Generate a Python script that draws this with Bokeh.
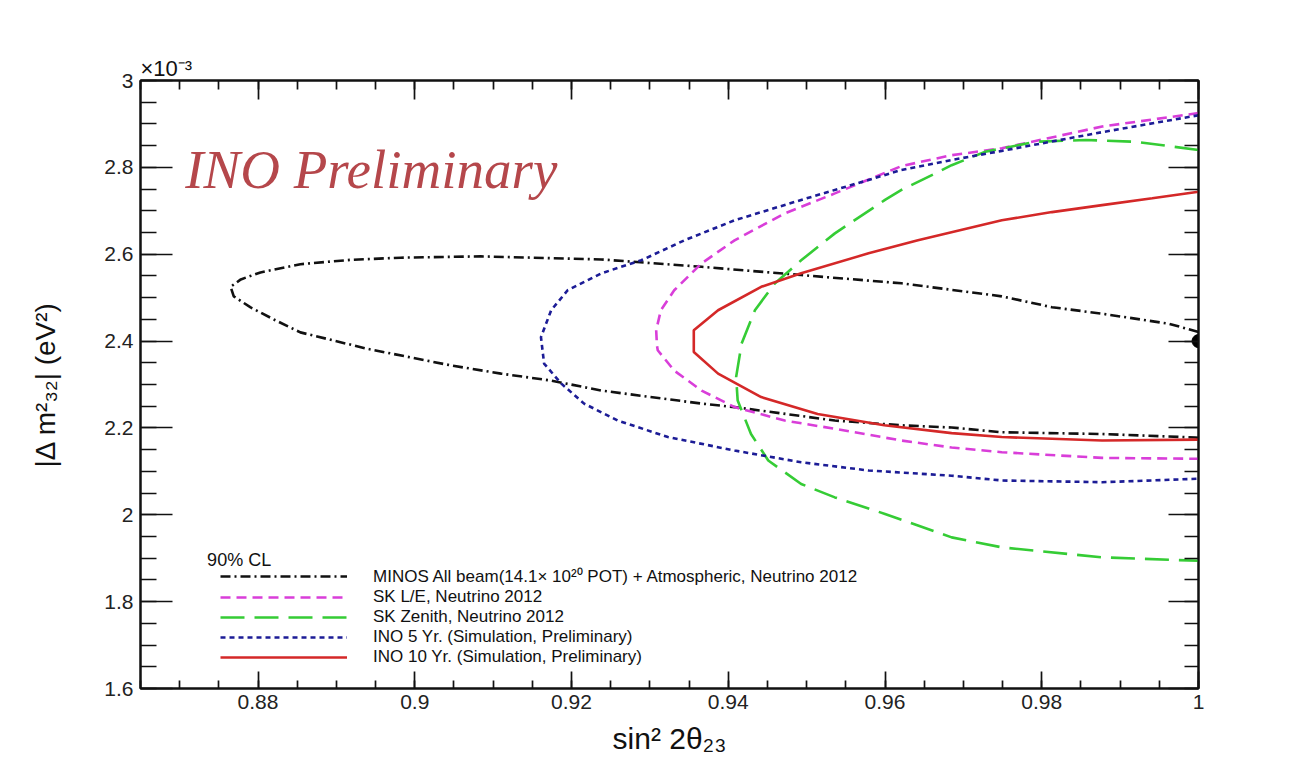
import numpy as np
from bokeh.plotting import figure
from bokeh.models import (LinearAxis, FixedTicker, PrintfTickFormatter, CustomJSTickFormatter,
                          Range1d, Legend, LegendItem, Label)
from bokeh.embed import file_html
from bokeh.resources import INLINE

# ---------------- data (x: sin^2 2theta23, y: |dm^2_32| in 1e-3 eV^2) ----------------
minos_x = [1.0, 0.9962, 0.9877, 0.9813, 0.9749, 0.9685, 0.9621, 0.9493, 0.9366, 0.9238,
           0.9084, 0.8982, 0.8918, 0.8854, 0.8803, 0.8778, 0.8765, 0.8769, 0.8790, 0.8822,
           0.8854, 0.8940, 0.9046, 0.9110, 0.9174, 0.9238, 0.9366, 0.9408, 0.9536, 0.9621,
           0.9685, 0.9749, 0.9877, 0.9996, 1.0]
minos_y = [2.421, 2.440, 2.463, 2.478, 2.503, 2.518, 2.533, 2.552, 2.571, 2.588,
           2.595, 2.592, 2.587, 2.577, 2.558, 2.542, 2.525, 2.503, 2.478, 2.448,
           2.420, 2.382, 2.344, 2.325, 2.309, 2.286, 2.256, 2.248, 2.217, 2.206,
           2.201, 2.190, 2.186, 2.178, 2.177]

skle_x = [1.0, 0.9877, 0.9749, 0.9685, 0.9621, 0.9536, 0.9472, 0.9408, 0.9366, 0.9331,
          0.9314, 0.9308, 0.9309, 0.9310, 0.9331, 0.9366, 0.9408, 0.9472, 0.9536, 0.9621,
          0.9685, 0.9749, 0.9877, 1.0]
skle_y = [2.925, 2.894, 2.844, 2.828, 2.803, 2.740, 2.694, 2.632, 2.579, 2.517,
          2.471, 2.425, 2.390, 2.379, 2.332, 2.286, 2.248, 2.217, 2.198, 2.171,
          2.155, 2.144, 2.131, 2.129]

skzen_x = [1.0, 0.9962, 0.9919, 0.9856, 0.9792, 0.9728, 0.9685, 0.9664, 0.9621, 0.9600,
           0.9536, 0.9493, 0.9459, 0.9434, 0.9417, 0.9410, 0.9412, 0.9429, 0.9451, 0.9493,
           0.9536, 0.9600, 0.9685, 0.9749, 0.9877, 1.0]
skzen_y = [2.840, 2.849, 2.859, 2.863, 2.859, 2.836, 2.805, 2.786, 2.748, 2.725,
           2.648, 2.586, 2.532, 2.471, 2.394, 2.317, 2.263, 2.186, 2.125, 2.071,
           2.040, 2.002, 1.948, 1.925, 1.902, 1.894]

ino5_x = [1.0, 0.9877, 0.9749, 0.9685, 0.9621, 0.9579, 0.9493, 0.9408, 0.9344, 0.9289,
          0.9238, 0.9195, 0.9174, 0.9161, 0.9165, 0.9187, 0.9216, 0.9259, 0.9323, 0.9408,
          0.9493, 0.9579, 0.9685, 0.9749, 0.9877, 1.0]
ino5_y = [2.920, 2.881, 2.838, 2.817, 2.794, 2.771, 2.725, 2.678, 2.632, 2.586,
          2.556, 2.517, 2.471, 2.409, 2.348, 2.302, 2.256, 2.217, 2.179, 2.148,
          2.121, 2.102, 2.090, 2.079, 2.075, 2.083]

ino10_x = [1.0, 0.9941, 0.9877, 0.9813, 0.9749, 0.9642, 0.9579, 0.9493, 0.9442, 0.9387,
           0.9356, 0.9356, 0.9387, 0.9442, 0.9514, 0.9599, 0.9685, 0.9749, 0.9877, 1.0]
ino10_y = [2.744, 2.729, 2.713, 2.697, 2.678, 2.632, 2.602, 2.556, 2.525, 2.471,
           2.425, 2.375, 2.325, 2.271, 2.232, 2.206, 2.188, 2.179, 2.171, 2.173]

bestfit_x = [1.0]
bestfit_y = [2.40]

series_labels = [
    "MINOS All beam(14.1\u00d7 10\u00b2\u2070 POT) + Atmospheric, Neutrino 2012",
    "SK L/E, Neutrino 2012",
    "SK Zenith, Neutrino 2012",
    "INO 5 Yr. (Simulation, Preliminary)",
    "INO 10 Yr. (Simulation, Preliminary)",
]
legend_title = "90% CL"

x_major_ticks = [0.88, 0.90, 0.92, 0.94, 0.96, 0.98, 1.00]
y_major_ticks = [1.6, 1.8, 2.0, 2.2, 2.4, 2.6, 2.8, 3.0]
x_minor_ticks = [round(v, 4) for v in np.arange(0.865, 1.0001, 0.005)]
y_minor_ticks = [round(v, 3) for v in np.arange(1.6, 3.0001, 0.05)]

FONT = "Liberation Sans"

p = figure(width=1304, height=761, x_range=Range1d(0.865, 1.0), y_range=Range1d(1.6, 3.0),
           output_backend="svg", toolbar_location=None,
           min_border_left=140, min_border_right=106, min_border_top=80, min_border_bottom=73,
           background_fill_color="white", border_fill_color="white")
p.xgrid.visible = False
p.ygrid.visible = False
p.outline_line_color = "#111111"
p.outline_line_width = 2

# exponent marker shown above the top-left corner of the frame
p.title.text = "\u00d710\u207b\u00b3"
p.title.align = "left"
p.title.offset = 0
p.title.text_font = FONT
p.title.text_font_size = "22px"
p.title.text_font_style = "normal"
p.title.text_color = "#111111"
p.title.standoff = 0

xt = FixedTicker(ticks=x_major_ticks, minor_ticks=x_minor_ticks)
yt = FixedTicker(ticks=y_major_ticks, minor_ticks=y_minor_ticks)

def style(ax, tin, tmin):
    ax.axis_line_width = 2
    ax.axis_line_color = "#111111"
    ax.major_tick_in = tin
    ax.major_tick_out = 0
    ax.minor_tick_in = tmin
    ax.minor_tick_out = 0
    ax.major_tick_line_width = 1.7
    ax.minor_tick_line_width = 1.7
    ax.major_tick_line_color = "#111111"
    ax.minor_tick_line_color = "#111111"
    ax.major_label_text_font = FONT
    ax.major_label_text_font_size = "21px"
    ax.major_label_text_color = "#222222"
    ax.axis_label_text_font = FONT
    ax.axis_label_text_font_style = "normal"
    ax.axis_label_text_color = "#111111"

xa = p.xaxis[0]
xa.ticker = xt
xa.formatter = PrintfTickFormatter(format="%g")
style(xa, 17, 8)
xa.major_label_standoff = 6
xa.axis_label = "sin\u00b2 2\u03b8\u2082\u2083"
xa.axis_label_text_font_size = "30px"
xa.axis_label_standoff = 10

ya = p.yaxis[0]
ya.ticker = yt
ya.formatter = PrintfTickFormatter(format="%g")
style(ya, 32, 16)
ya.major_label_standoff = 7
ya.axis_label = "|\u0394 m\u00b2\u2083\u2082| (eV\u00b2)"
ya.axis_label_text_font_size = "28px"
ya.axis_label_standoff = 40

blank = "return ''"
top = LinearAxis(ticker=xt, formatter=CustomJSTickFormatter(code=blank))
style(top, 19, 9)
top.major_label_standoff = 0
p.add_layout(top, "above")
right = LinearAxis(ticker=yt, formatter=CustomJSTickFormatter(code=blank))
style(right, 30, 14)
right.major_label_standoff = 0
p.add_layout(right, "right")

r_minos = p.line(minos_x, minos_y, line_color="#111111", line_width=2.6, line_dash="10 4 2 4")
r_skle = p.line(skle_x, skle_y, line_color="#d93ed9", line_width=2.6, line_dash="10 6")
r_skzen = p.line(skzen_x, skzen_y, line_color="#35cc35", line_width=2.6, line_dash="24 10")
r_ino5 = p.line(ino5_x, ino5_y, line_color="#1c1c96", line_width=2.6, line_dash="5 4")
r_ino10 = p.line(ino10_x, ino10_y, line_color="#d42828", line_width=2.6)
p.scatter(bestfit_x, bestfit_y, size=13, color="#000000")

items = [LegendItem(label=lab, renderers=[r]) for lab, r in
         zip(series_labels, [r_minos, r_skle, r_skzen, r_ino5, r_ino10])]
legend = Legend(items=items, location=(80, 21),
                label_text_font=FONT, label_text_font_size="17px", label_text_color="#111111",
                glyph_width=127, glyph_height=20, label_height=20, label_standoff=26,
                spacing=0, padding=0, margin=0,
                border_line_color=None, background_fill_alpha=0)
p.add_layout(legend)

# legend heading, placed just above the first legend row
p.add_layout(Label(x=0.8735, y=1.895, text=legend_title, text_font=FONT,
                   text_font_size="18px", text_color="#111111",
                   text_baseline="alphabetic", text_align="left"))

p.add_layout(Label(x=0.8707, y=2.794, text="INO Preliminary", text_font="Liberation Serif",
                   text_font_style="italic", text_font_size="55px", text_color="#b5474b",
                   text_baseline="alphabetic", text_align="left"))

open("out.html", "w").write(file_html(p, INLINE))
